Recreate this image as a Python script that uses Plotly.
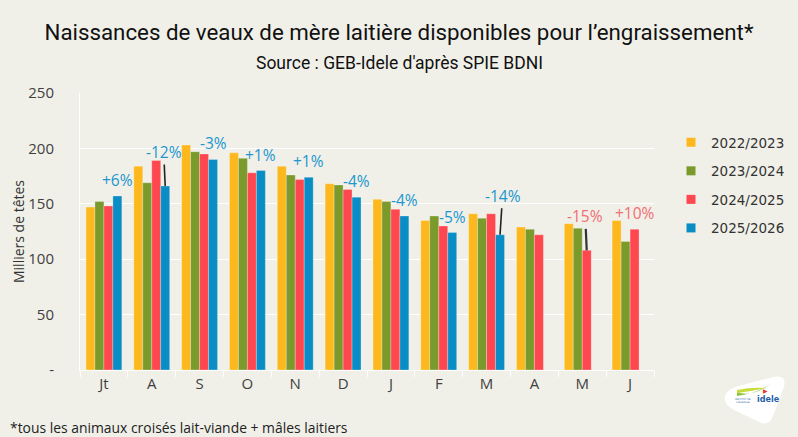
import plotly.graph_objects as go

months = ["Jt", "A", "S", "O", "N", "D", "J", "F", "M", "A ", "M ", "J "]
tick_labels = ["Jt", "A", "S", "O", "N", "D", "J", "F", "M", "A", "M", "J"]
campaigns = ["2022/2023", "2023/2024", "2024/2025", "2025/2026"]
v_2022 = [147, 184, 203, 196, 184, 168, 154, 135, 141, 129, 132, 135]
v_2023 = [152, 169, 197, 191, 176, 167, 152, 139, 137, 127, 128, 116]
v_2024 = [148, 189, 195, 178, 172, 163, 145, 130, 141, 122, 108, 127]
v_2025 = [157, 166, 190, 180, 174, 156, 139, 124, 122, None, None, None]
pct_labels = ["+6%", "-12%", "-3%", "+1%", "+1%", "-4%", "-4%", "-5%", "-14%", "", "-15%", "+10%"]

colors = ["#FDB81E", "#7A9A2C", "#FF474F", "#0A8CC5"]
series = [v_2022, v_2023, v_2024, v_2025]

BG = "#F0F0E9"
W, H = 798, 437
L, R, T, B = 80, 144, 93, 67
PW, PH = W - L - R, H - T - B


def px(xp):
    return (xp - L) / PW


def py(yp):
    return (H - B - yp) / PH


fig = go.Figure()
for name, vals, col in zip(campaigns, series, colors):
    fig.add_trace(go.Bar(
        x=months, y=vals, name=name, marker=dict(color=col, line=dict(color="rgba(255,255,255,0.45)", width=0.6)),
        showlegend=False, hoverinfo="skip"))
for name, col in zip(campaigns, colors):
    fig.add_trace(go.Scatter(
        x=[None], y=[None], mode="markers", name=name, legendgroup=name,
        marker=dict(symbol="square", size=9, color=col)))

# percentage labels on last bar of each month
n_series = 4
bargap = 0.25
bw = (1 - bargap) / n_series
annotations = []
for i, lab in enumerate(pct_labels):
    if not lab:
        continue
    if v_2025[i] is not None:
        k, val, col = 3, v_2025[i], "#2196CE"
    else:
        k, val, col = 2, v_2024[i], "#F26D72"
    xpos = i - (1 - bargap) / 2 + bw * (k + 0.5)
    if lab in ("-12%", "-14%", "-15%"):
        dx = {"-12%": -1.5, "-14%": 2.5, "-15%": -1.5}[lab]
        dy = {"-12%": -34, "-14%": -39, "-15%": -34}[lab]
        acol = "#222222" if lab != "-15%" else "#333333"
        annotations.append(dict(
            x=xpos, y=val, xref="x", yref="y", text=lab, showarrow=True,
            arrowhead=0, arrowwidth=1.6 if lab != "-15%" else 2.2, arrowcolor=acol,
            ax=dx, ay=dy, font=dict(family="Open Sans", size=15.5, color=col)))
    else:
        annotations.append(dict(
            x=xpos, y=val, xref="x", yref="y", text=lab, showarrow=False,
            yanchor="middle", yshift=16, font=dict(family="Open Sans", size=15.5, color=col)))

annotations.append(dict(
    x=px(W / 2), y=py(63), xref="paper", yref="paper", xanchor="center", yanchor="middle",
    text="Source : GEB-Idele d'après SPIE BDNI", showarrow=False,
    font=dict(family="Roboto", size=17.5, color="#111111")))
annotations.append(dict(
    x=px(8), y=py(427), xref="paper", yref="paper", xanchor="left", yanchor="middle",
    text="*tous les animaux croisés lait-viande + mâles laitiers", showarrow=False,
    font=dict(family="Open Sans", size=13.9, color="#222222")))

# logo approximation (idele)
def path_px(cmds):
    out = []
    for c in cmds:
        if isinstance(c, str):
            out.append(c)
        else:
            out.append(f"{px(c[0]):.5f},{py(c[1]):.5f}")
    return " ".join(out)

logo_shape = path_px(["M", (725, 401), "Q", (723, 392), (735, 387), "L", (773, 377), "Q", (787, 374),
                      (784, 387), "L", (773, 416), "Q", (769, 427), (759, 422), "L", (734, 410),
                      "Q", (727, 406), (725, 401), "Z"])
swoosh = path_px(["M", (737, 392), "Q", (752, 398), (772, 383), "Q", (756, 394), (737, 396), "Z"])
swoosh2 = path_px(["M", (737, 390), "Q", (752, 387), (766, 388), "Q", (752, 391), (737, 393), "Z"])
shapes = [
    dict(type="path", path=logo_shape, xref="paper", yref="paper", fillcolor="white", line=dict(width=0), layer="above"),
    dict(type="path", path=swoosh, xref="paper", yref="paper", fillcolor="#8CC63F", line=dict(width=0), layer="above"),
    dict(type="path", path=swoosh2, xref="paper", yref="paper", fillcolor="#C7DC3A", line=dict(width=0), layer="above"),
]
annotations.append(dict(x=px(756), y=py(405), xref="paper", yref="paper", xanchor="left", text="<b>idele</b>",
                        showarrow=False, borderpad=0,
                        font=dict(family="DejaVu Sans", size=8, color="#1F5FA8")))
annotations.append(dict(x=px(752), y=py(405), xref="paper", yref="paper", xanchor="right",
                        text="INSTITUT DE<br>L'ÉLEVAGE", borderpad=0,
                        showarrow=False, font=dict(family="DejaVu Sans", size=2.5, color="#1F5FA8")))
annotations.append(dict(x=px(769), y=py(395), xref="paper", yref="paper", text="<b>▶</b>", showarrow=False,
                        borderpad=0, font=dict(family="DejaVu Sans", size=6, color="#E63B2E")))

fig.update_layout(
    width=W, height=H,
    margin=dict(l=L, r=R, t=T, b=B, autoexpand=False),
    paper_bgcolor=BG, plot_bgcolor=BG,
    barmode="group", bargap=bargap, bargroupgap=0,
    title=dict(text="Naissances de veaux de mère laitière disponibles pour l’engraissement*",
               x=0.5, xanchor="center", xref="container", y=1 - 32 / H, yanchor="middle", yref="container",
               font=dict(family="Roboto", size=22.3, color="#111111")),
    xaxis=dict(
        type="category", categoryorder="array", categoryarray=months,
        tickvals=months, ticktext=tick_labels, automargin=False,
        tickson="boundaries", ticks="outside", ticklen=6, tickcolor="#FFFFFF", tickwidth=1,
        showline=True, linecolor="#FFFFFF", linewidth=1,
        tickfont=dict(family="Open Sans", size=15, color="#404040"),
        range=[-0.5, 11.5], showgrid=False),
    yaxis=dict(
        range=[0, 250], tickvals=[0, 50, 100, 150, 200, 250],
        ticktext=["-", "50", "100", "150", "200", "250"], automargin=False,
        showgrid=True, gridcolor="#FFFFFF", gridwidth=1, zeroline=False,
        showline=True, linecolor="#FFFFFF", linewidth=1,
        ticks="", ticklabelstandoff=22,
        tickfont=dict(family="Open Sans", size=15, color="#404040"),
        title=dict(text="Milliers de têtes", standoff=0,
                   font=dict(family="Open Sans", size=14, color="#333333"))),
    legend=dict(x=px(671), y=py(127), xanchor="left", yanchor="top", tracegroupgap=8,
                bgcolor="rgba(0,0,0,0)",
                font=dict(family="DejaVu Sans", size=13.5, color="#333333")),
    annotations=annotations, shapes=shapes,
)

fig.write_html("out.html", config={"displayModeBar": False},
               post_script="document.body.style.margin='0';document.body.style.overflow='hidden';")
